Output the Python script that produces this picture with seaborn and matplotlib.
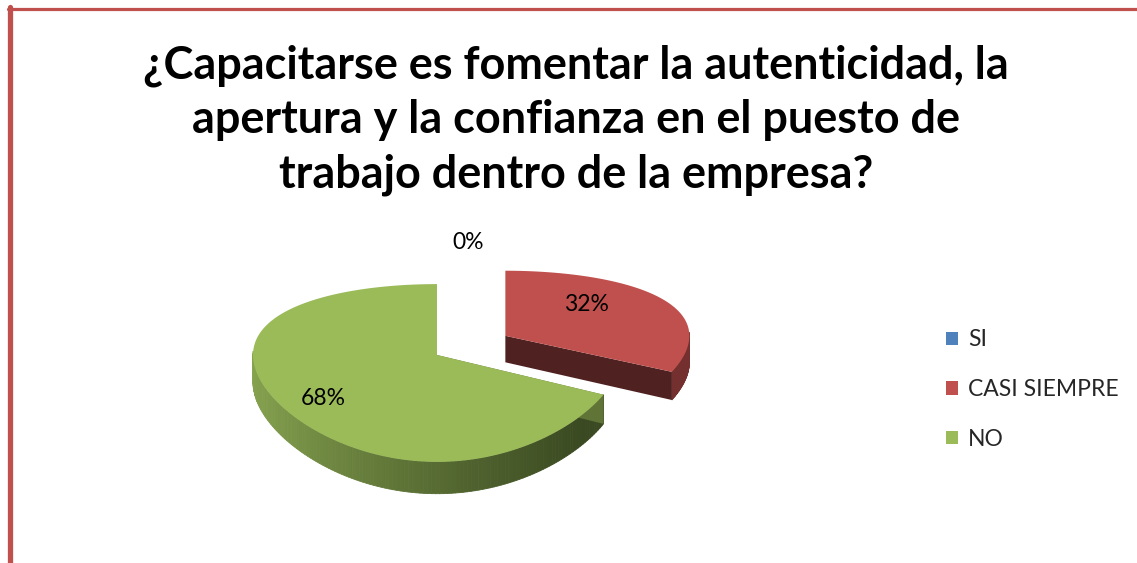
import numpy as np
import matplotlib
matplotlib.use("Agg")
import matplotlib.pyplot as plt
from matplotlib.patches import Polygon, Patch
from matplotlib.colors import to_rgb
import seaborn as sns

# data
categories = ["SI", "CASI SIEMPRE", "NO"]
values = [0, 32, 68]
colors = ["#4F81BD", "#C0504D", "#9BBB59"]
exploded = [0.0, 0.44, 0.0]
title = "¿Capacitarse es fomentar la autenticidad, la\napertura y la confianza en el puesto de\ntrabajo dentro de la empresa?"

sns.set_theme(style="white")
plt.rcParams["font.family"] = ["Lato", "DejaVu Sans"]

W, H = 1137, 563
fig = plt.figure(figsize=(W / 100, H / 100), dpi=100)
ax = fig.add_axes([0, 0, 1, 1])
ax.set_xlim(0, W)
ax.set_ylim(H, 0)
ax.axis("off")

# simple perspective for the 3d pie (screen px)
CX, CY, A = 437, 355, 184
F, D = 806, 4.38
S, C = np.sin(np.radians(27.6)), np.cos(np.radians(27.6))
T = 0.171


def proj(u, v, z=0.0):
    yc = v * S + z * C
    dep = D + v * C - z * S
    return CX + A * u, CY - F * yc / dep


def rim(ox, oy, th, z=0.0):
    return proj(ox + np.cos(th), oy + np.sin(th), z)


def shade(c, k):
    r, g, b = to_rgb(c)
    return (r * k, g * k, b * k)


# slice angles: start at 12 o'clock, clockwise
total = sum(values)
start = 90.0
slices = []
for cat, val, col, ex in zip(categories, values, colors, exploded):
    sweep = 360.0 * val / total
    a1, a2 = start - sweep, start
    mid = np.radians((a1 + a2) / 2)
    slices.append(dict(cat=cat, val=val, col=col, a1=np.radians(a1), a2=np.radians(a2),
                       ox=ex * np.cos(mid), oy=ex * np.sin(mid), mid=mid))
    start = a1

light_g, dark_g = np.array(to_rgb("#86A34F")), np.array(to_rgb("#3A4921"))

# draw back slices first (exploded red), then the front one
for s in sorted(slices, key=lambda s: -s["oy"]):
    if s["val"] == 0:
        continue
    ox, oy = s["ox"], s["oy"]
    a1, a2 = s["a1"], s["a2"]
    # outer wall, front part only
    th = np.linspace(a1, a2, 200)
    for t0, t1 in zip(th[:-1], th[1:]):
        if np.sin((t0 + t1) / 2) > 0.05:
            continue
        quad = [rim(ox, oy, t0), rim(ox, oy, t1), rim(ox, oy, t1, -T), rim(ox, oy, t0, -T)]
        if s["col"] == "#9BBB59":
            x = (quad[0][0] - 253) / 330
            k = np.clip(x, 0, 1) ** 0.8
            fc = tuple(light_g * (1 - k) + dark_g * k)
        else:
            fc = shade(s["col"], 0.6)
        ax.add_patch(Polygon(quad, closed=True, fc=fc, ec=fc, lw=0.6))
    # radial side faces
    for ang, k in [(a2, 0.62), (a1, 0.41)]:
        face = [proj(ox, oy), rim(ox, oy, ang), rim(ox, oy, ang, -T), proj(ox, oy, -T)]
        if s["col"] == "#9BBB59" and ang == a1:
            continue
        ax.add_patch(Polygon(face, closed=True, fc=shade(s["col"], k), ec="none"))
    # top face
    th = np.linspace(a1, a2, 200)
    top = [proj(ox, oy)] + [rim(ox, oy, t) for t in th]
    ax.add_patch(Polygon(top, closed=True, fc=s["col"], ec="none"))

# percentage labels (radius on the top face, small vertical nudge in px)
label_place = {"CASI SIEMPRE": (0.52, -11), "NO": (0.73, 7)}
for s in slices:
    pct = f"{round(100 * s['val'] / total)}%"
    if s["val"] == 0:
        x, y = proj(s["ox"], s["oy"] + 1.8)
        ax.text(x + 15, y, pct, ha="left", va="center", fontsize=16.5, color="black")
    else:
        r, dy = label_place[s["cat"]]
        x, y = proj(s["ox"] + r * np.cos(s["mid"]), s["oy"] + r * np.sin(s["mid"]))
        ax.text(x, y + dy, pct, ha="center", va="center", fontsize=16.5, color="black")

# title
fig.text(576 / W, 1 - 120 / H, title, ha="center", va="center", fontsize=32.4,
         fontweight="bold", linespacing=1.36, color="black")

# legend
handles = [Patch(fc=c, ec="none") for c in colors]
fig.legend(handles, categories, loc="upper left", bbox_to_anchor=(935 / W, 1 - 318 / H),
           frameon=False, fontsize=16.5, handlelength=0.5, handleheight=0.5,
           handletextpad=0.45, labelspacing=1.25, borderpad=0)

# chart frame (left and top edges)
ax.plot([9.8, 9.8], [7, H + 5], color="#C0504D", lw=3.8, clip_on=False)
ax.plot([7.5, W + 5], [8.5, 8.5], color="#C0504D", lw=2.3, clip_on=False)

fig.savefig("out.png", dpi=100)
